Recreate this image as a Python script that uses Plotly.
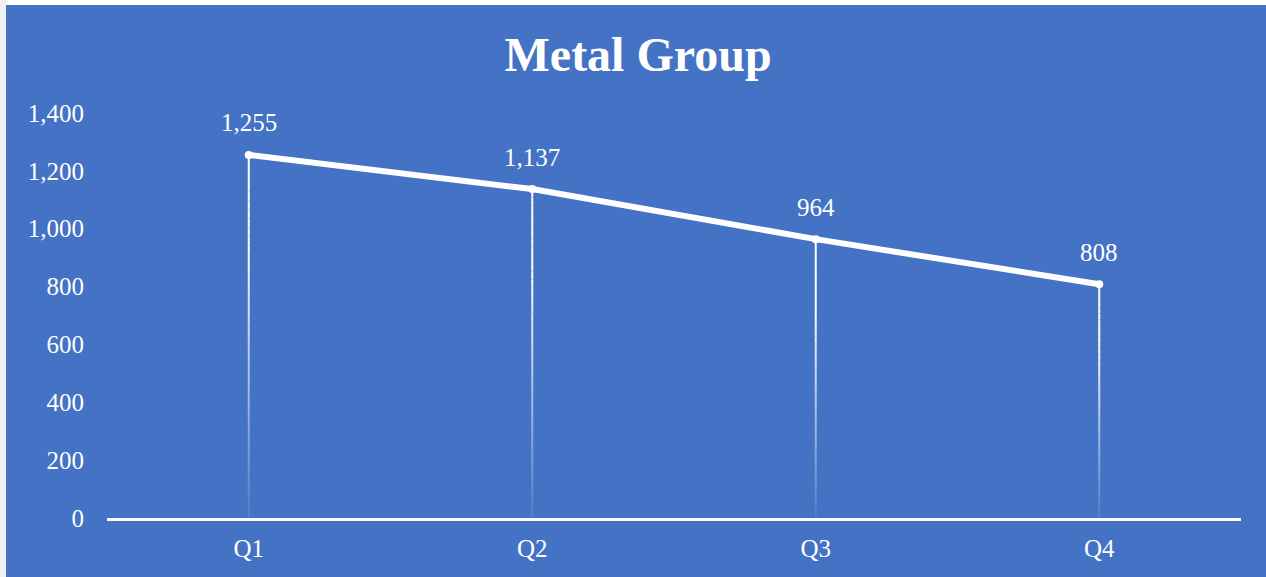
import plotly.graph_objects as go

# Quarterly values for the metal group
quarters = ["Q1", "Q2", "Q3", "Q4"]
values = [1255, 1137, 964, 808]
y_ticks = [0, 200, 400, 600, 800, 1000, 1200, 1400]
title_text = "Metal Group"

BLUE = "#4472C4"
WHITE = "#FFFFFF"
FONT = "Liberation Serif, Times New Roman, serif"

fig = go.Figure()

# Drop lines from each point down to the axis, fading toward the bottom
n_steps = 40
for k in range(n_steps):
    f0 = k / n_steps
    f1 = (k + 1) / n_steps
    alpha = 0.08 + 0.92 * min(1.0, ((f0 + f1) / 2) * 1.35)
    xs, ys = [], []
    for q, v in zip(quarters, values):
        xs += [q, q, None]
        ys += [v * f0, v * f1, None]
    fig.add_trace(go.Scatter(
        x=xs, y=ys, mode="lines",
        line=dict(color=f"rgba(255,255,255,{alpha:.3f})", width=2),
        hoverinfo="skip", showlegend=False,
    ))

# Main series line
fig.add_trace(go.Scatter(
    x=quarters, y=values, mode="lines+markers",
    line=dict(color=WHITE, width=6),
    marker=dict(color=WHITE, size=8),
    showlegend=False,
))

# Value labels above each point
for q, v in zip(quarters, values):
    fig.add_annotation(
        x=q, y=v, text=f"{v:,}", showarrow=False,
        yshift=32, font=dict(family=FONT, size=25, color=WHITE),
    )

# Light strips along the top and left page edges
L, R, T, B = 107, 25, 113, 59
W, H = 1266, 577
pw, ph = W - L - R, H - T - B
fig.add_shape(type="rect", xref="paper", yref="paper",
              x0=(0 - L) / pw, x1=(W - L) / pw,
              y0=(H - B - 5) / ph, y1=(H - B + 2) / ph,
              fillcolor=WHITE, line_width=0, layer="above")
fig.add_shape(type="rect", xref="paper", yref="paper",
              x0=(-2 - L) / pw, x1=(6 - L) / pw,
              y0=(-B - 2) / ph, y1=(H - B + 2) / ph,
              fillcolor="#EEF0F4", line_width=0, layer="above")

fig.update_layout(
    width=W, height=H,
    margin=dict(l=L, r=R, t=T, b=B),
    paper_bgcolor=BLUE, plot_bgcolor=BLUE,
    title=dict(text=f"<b>{title_text}</b>", x=0.504, xanchor="center",
               y=1 - 54 / H, yanchor="middle",
               font=dict(family=FONT, size=48, color=WHITE)),
    xaxis=dict(
        type="category", range=[-0.5, 3.5], automargin=False,
        showgrid=False, zeroline=False,
        showline=True, linecolor=WHITE, linewidth=3,
        ticks="", ticklabelstandoff=6,
        tickfont=dict(family=FONT, size=25, color=WHITE),
    ),
    yaxis=dict(
        range=[0, 1400], tickvals=y_ticks, automargin=False,
        ticktext=[f"{t:,}" for t in y_ticks],
        showgrid=False, zeroline=False, showline=False,
        ticks="", ticklabelstandoff=22,
        tickfont=dict(family=FONT, size=25, color=WHITE),
    ),
)

fig.write_html("out.html")
